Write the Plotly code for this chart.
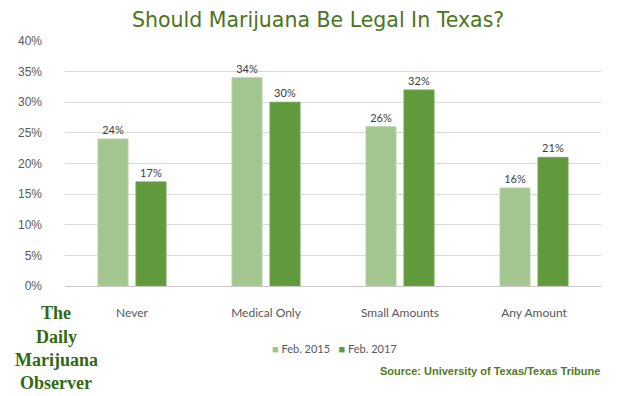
import plotly.graph_objects as go

categories = ["Never", "Medical Only", "Small Amounts", "Any Amount"]
feb_2015 = [24, 34, 26, 16]
feb_2017 = [17, 30, 32, 21]
series_names = ["Feb. 2015", "Feb. 2017"]
y_ticks = [0, 5, 10, 15, 20, 25, 30, 35, 40]
y_tick_labels = [f"{v}%" for v in y_ticks]
title_text = "Should Marijuana Be Legal In Texas?"
source_text = "Source: University of Texas/Texas Tribune"
logo_lines = ["The", "Daily", "Marijuana", "Observer"]

# the page body adds an 8px margin; lay out in window pixels and compensate
OFF = 8
W, H = 630, 396
plot_left, plot_right, plot_top, plot_bottom = 65, 601, 41, 286
L = plot_left - OFF
T = plot_top - OFF
pw = plot_right - plot_left
ph = plot_bottom - plot_top
R = W - L - pw
B = H - T - ph

def px(x):
    return (x - plot_left) / pw

def py(y):
    return (plot_bottom - y) / ph

light = "#A3C58F"
dark = "#619A3C"
label_font = dict(family="Lato, Liberation Sans, sans-serif", size=11, color="#404040")

fig = go.Figure()
fig.add_trace(go.Bar(
    x=categories, y=feb_2015, name=series_names[0],
    marker=dict(color=light, line=dict(color="#B5D1A4", width=1)),
    text=[f"{v}%" for v in feb_2015], textposition="outside",
    textfont=label_font, cliponaxis=False, showlegend=False,
))
fig.add_trace(go.Bar(
    x=categories, y=feb_2017, name=series_names[1],
    marker=dict(color=dark, line=dict(color="#6FA64A", width=1)),
    text=[f"{v}%" for v in feb_2017], textposition="outside",
    textfont=label_font, cliponaxis=False, showlegend=False,
))

fig.update_layout(
    width=W, height=H,
    margin=dict(l=L, r=R, t=T, b=B, pad=0, autoexpand=False),
    paper_bgcolor="white", plot_bgcolor="white",
    barmode="group", bargap=0.433, bargroupgap=0.21,
    uniformtext=dict(minsize=8),
)
fig.update_xaxes(
    showgrid=False, showline=False, zeroline=False,
    tickfont=dict(family="Lato, Liberation Sans, sans-serif", size=12, color="#595959"),
    ticks="", ticklabelstandoff=18,
)
fig.update_yaxes(
    range=[0, 40], tickvals=y_ticks, ticktext=y_tick_labels,
    showgrid=True, gridcolor="#D9D9D9", gridwidth=1,
    zeroline=True, zerolinecolor="#C8C8C8", zerolinewidth=1,
    showline=False, ticks="", ticklabelstandoff=22,
    tickfont=dict(family="Liberation Sans, Arial, sans-serif", size=12, color="#595959"),
)

legend_text = (
    f"<span style='color:{light}'>■</span> {series_names[0]}"
    f"&nbsp;&nbsp;&nbsp;<span style='color:{dark}'>■</span> {series_names[1]}"
)

annotations = [
    dict(text=title_text, xref="paper", yref="paper", x=px(318), y=py(20),
         xanchor="center", yanchor="middle", showarrow=False,
         font=dict(family="DejaVu Sans, sans-serif", size=20.5, color="#4A7520")),
    dict(text=f"<b>{source_text}</b>", xref="paper", yref="paper", x=px(602), y=py(371),
         xanchor="right", yanchor="middle", showarrow=False,
         font=dict(family="Liberation Sans Narrow, Liberation Sans, sans-serif", size=11, color="#4F7A1E")),
    dict(text=legend_text, xref="paper", yref="paper", x=px(334), y=py(348),
         xanchor="center", yanchor="middle", showarrow=False,
         font=dict(family="Lato, Liberation Sans, sans-serif", size=11, color="#595959")),
]
logo_y = [313, 337, 360, 383]
for line, yy in zip(logo_lines, logo_y):
    annotations.append(dict(
        text=f"<b>{line}</b>", xref="paper", yref="paper", x=px(56), y=py(yy),
        xanchor="center", yanchor="middle", showarrow=False,
        font=dict(family="Liberation Serif, serif", size=18, color="#2F6A12"),
    ))
fig.update_layout(annotations=annotations)

fig.write_html("out.html")
